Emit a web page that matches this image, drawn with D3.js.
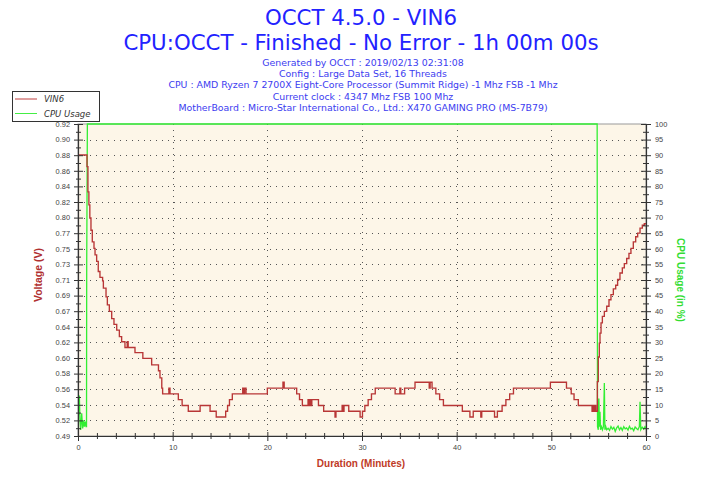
<!DOCTYPE html>
<html><head><meta charset="utf-8">
<script src="https://cdn.jsdelivr.net/npm/d3@7"></script>
<style>body{margin:0;background:#fff} svg{display:block}</style>
</head><body>
<svg id="c" width="720" height="480"></svg>
<script>
// ---------- data ----------
const titleLines = ["OCCT 4.5.0 - VIN6", "CPU:OCCT - Finished - No Error - 1h 00m 00s"];
const infoLines = [
  "Generated by OCCT : 2019/02/13 02:31:08",
  "Config : Large Data Set, 16 Threads",
  "CPU : AMD Ryzen 7 2700X Eight-Core Processor (Summit Ridge) -1 Mhz FSB -1 Mhz",
  "Current clock : 4347 Mhz FSB 100 Mhz",
  "MotherBoard : Micro-Star International Co., Ltd.: X470 GAMING PRO (MS-7B79)"
];
const legendLabels = ["VIN6", "CPU Usage"];
const voltTickLabels = ["0.49","0.52","0.54","0.56","0.58","0.60","0.62","0.64","0.67","0.69","0.71","0.73","0.75","0.77","0.80","0.82","0.84","0.86","0.88","0.90","0.92"];
const cpuTickLabels = [0,5,10,15,20,25,30,35,40,45,50,55,60,65,70,75,80,85,90,95,100];
const timeTickLabels = [0,10,20,30,40,50,60];
const voltDomain = [0.4938, 0.9248];

// VIN6 (minutes, volts) - step series
const vin6 = [
[0,0.882],[0.95,0.866],[1.05,0.831],[1.15,0.813],[1.25,0.795],[1.37,0.778],[1.51,0.762],[1.69,0.753],[1.8,0.744],[1.97,0.735],
[2.14,0.721],[2.32,0.713],[2.6,0.708],[2.68,0.698],[2.96,0.686],[3.1,0.675],[3.31,0.666],[3.56,0.656],[3.8,0.648],[4.09,0.64],
[4.37,0.631],[4.61,0.624],[4.96,0.616],[5.2,0.624],[5.3,0.616],[6.02,0.609],[6.85,0.601],[7.78,0.592],[8.5,0.584],[8.66,0.574],
[8.85,0.56],[8.94,0.552],[9.6,0.56],[9.72,0.552],[10.6,0.544],[11.0,0.536],[11.65,0.528],[12.9,0.536],[13.95,0.528],[14.6,0.52],
[15.6,0.528],[15.8,0.536],[16.0,0.544],[16.3,0.552],[17.4,0.56],[17.5,0.552],[17.6,0.56],[17.75,0.552],[20.0,0.56],[21.65,0.568],
[21.78,0.56],[23.1,0.552],[23.4,0.544],[23.7,0.536],[24.3,0.544],[24.4,0.536],[24.5,0.544],[24.6,0.536],[24.7,0.544],[25.4,0.536],
[25.95,0.528],[27.15,0.52],[27.25,0.528],[27.9,0.536],[28.0,0.528],[28.1,0.536],[28.6,0.528],[29.8,0.52],[30.05,0.528],[30.3,0.536],
[30.65,0.544],[31.0,0.552],[31.4,0.56],[33.5,0.552],[34.0,0.56],[34.1,0.552],[34.5,0.56],[35.6,0.568],[37.1,0.56],[37.2,0.568],
[37.4,0.56],[37.8,0.552],[38.2,0.544],[38.6,0.536],[40.6,0.528],[41.4,0.52],[41.75,0.528],[42.55,0.52],[42.65,0.528],[44.0,0.52],
[44.3,0.528],[44.8,0.536],[45.2,0.544],[45.6,0.552],[46.0,0.56],[49.9,0.568],[51.6,0.56],[52.1,0.552],[52.4,0.544],[52.85,0.536],
[54.3,0.528],[54.4,0.536],[54.5,0.528],[54.6,0.536],[54.7,0.528],[54.86,0.569],[54.96,0.603],[55.07,0.622],[55.14,0.636],[55.25,0.65],
[55.39,0.659],[55.6,0.666],[55.85,0.673],[56.09,0.682],[56.3,0.689],[56.55,0.697],[56.8,0.702],[57.0,0.71],[57.25,0.719],[57.5,0.726],
[57.71,0.732],[57.96,0.739],[58.2,0.746],[58.41,0.753],[58.66,0.762],[58.91,0.769],[59.12,0.774],[59.37,0.781],[59.61,0.785],[59.82,0.787],
[60,0.787]
];

// CPU usage (minutes, %)
const cpuUsage = [
[0,6],[0.07,7.3],[0.14,13],[0.21,5],[0.28,1.9],[0.39,7.3],[0.49,2.4],[0.6,5],[0.67,3],[0.77,4.6],[0.85,3],[0.9,3],
[0.92,55],[0.99,100],[54.84,100],[54.88,3],[54.96,2],[55.02,12],[55.08,3],[55.14,7.8],[55.2,2],[55.3,3],[55.4,2],[55.5,3],
[55.6,17],[55.66,2],[55.75,3],[55.85,2],[56.0,2.5],[56.15,1.8],[56.3,3],[56.45,2.2],[56.6,2.8],[56.75,1.5],[56.9,2.6],[57.05,3.2],
[57.2,2],[57.35,2.7],[57.5,1.8],[57.65,3],[57.8,2.3],[57.95,2.6],[58.1,1.9],[58.25,3.1],[58.4,2.2],[58.55,2.5],[58.7,1.7],[58.85,2.9],
[59.0,2.4],[59.15,2],[59.3,3],[59.37,11],[59.45,2],[59.6,2.8],[59.75,2.2],[59.9,3],[60,2.5]
];

// ---------- layout ----------
const svg = d3.select("#c");
const P = {l:78, r:646, t:124, b:436};
const x = d3.scaleLinear().domain([0,60]).range([P.l,P.r]);
const yV = d3.scaleLinear().domain(voltDomain).range([P.b,P.t]);
const yC = d3.scaleLinear().domain([0,100]).range([P.b,P.t]);
const voltTicks = voltTickLabels.map((d,i)=>voltDomain[0] + i*(voltDomain[1]-voltDomain[0])/20);
const voltMinor = voltTicks.slice(0,-1).map((d,i)=>(d+voltTicks[i+1])/2);
const cpuMinor = cpuTickLabels.slice(0,-1).map(d=>d+2.5);
const timeMinor = d3.range(0,61,2).filter(d=>d%10!==0);

// titles
svg.selectAll("text.title").data(titleLines).join("text")
  .attr("x",361).attr("y",(d,i)=>24.5+i*25).attr("text-anchor","middle")
  .attr("font-family","DejaVu Sans").attr("font-size",21.3).attr("fill","#2222ff").text(d=>d);
svg.selectAll("text.info").data(infoLines).join("text")
  .attr("x",363).attr("y",(d,i)=>65.5+i*11.4).attr("text-anchor","middle")
  .attr("font-family","DejaVu Sans").attr("font-size",9.4).attr("fill","#3c3cf0").text(d=>d);

// plot background
svg.append("rect").attr("x",P.l).attr("y",P.t).attr("width",P.r-P.l).attr("height",P.b-P.t)
  .attr("fill","#fdf6e8").attr("stroke","#999").attr("stroke-width",1);

// grid
const grid = svg.append("g").attr("stroke","#555").attr("stroke-width",1).attr("stroke-dasharray","1,5");
grid.selectAll("line.h").data(voltTicks.slice(1,-1)).join("line")
  .attr("x1",P.l+6).attr("x2",P.r).attr("y1",d=>Math.round(yV(d))+0.5).attr("y2",d=>Math.round(yV(d))+0.5);
grid.selectAll("line.v").data(timeTickLabels.slice(1,-1)).join("line")
  .attr("y1",P.t).attr("y2",P.b).attr("x1",d=>Math.round(x(d))+0.5).attr("x2",d=>Math.round(x(d))+0.5);

// clip
svg.append("clipPath").attr("id","clip").append("rect")
  .attr("x",P.l).attr("y",P.t-1).attr("width",P.r-P.l).attr("height",P.b-P.t+1);

// series
svg.append("path").datum(cpuUsage).attr("clip-path","url(#clip)")
  .attr("fill","none").attr("stroke","#33ee33").attr("stroke-width",1.3)
  .attr("d", d3.line().x(d=>x(d[0])).y(d=>yC(d[1])));
svg.append("path").datum(vin6).attr("clip-path","url(#clip)")
  .attr("fill","none").attr("stroke","#b83636").attr("stroke-width",1.35)
  .attr("d", d3.line().curve(d3.curveStepAfter).x(d=>x(d[0])).y(d=>yV(d[1])));

// axes
const axisColor = "#333";
function styleAxis(g){
  g.select(".domain").attr("stroke",axisColor).attr("stroke-width",1.2);
  g.selectAll(".tick line").attr("stroke",axisColor);
  g.selectAll(".tick text").attr("fill","#444").attr("font-family","Liberation Sans").attr("font-size",7.4);
}
const gL = svg.append("g").attr("transform",`translate(${P.l},0)`)
  .call(d3.axisLeft(yV).tickValues(voltTicks).tickFormat((d,i)=>voltTickLabels[i]).tickSize(4).tickPadding(4).tickSizeOuter(0));
styleAxis(gL); gL.selectAll(".tick line").attr("x1",5);
const gLm = svg.append("g").attr("transform",`translate(${P.l},0)`)
  .call(d3.axisLeft(yV).tickValues(voltMinor).tickFormat("").tickSize(2).tickSizeOuter(0));
styleAxis(gLm); gLm.select(".domain").remove(); gLm.selectAll(".tick line").attr("x1",3);

const gR = svg.append("g").attr("transform",`translate(${P.r},0)`)
  .call(d3.axisRight(yC).tickValues(cpuTickLabels).tickFormat(d=>d).tickSize(5).tickPadding(4).tickSizeOuter(0));
styleAxis(gR); gR.selectAll(".tick line").attr("x1",-5); gR.selectAll(".tick text").attr("text-anchor","start");
const gRm = svg.append("g").attr("transform",`translate(${P.r},0)`)
  .call(d3.axisRight(yC).tickValues(cpuMinor).tickFormat("").tickSize(3).tickSizeOuter(0));
styleAxis(gRm); gRm.select(".domain").remove(); gRm.selectAll(".tick line").attr("x1",-3);

const gB = svg.append("g").attr("transform",`translate(0,${P.b})`)
  .call(d3.axisBottom(x).tickValues(timeTickLabels).tickFormat(d=>d).tickSize(5).tickPadding(4).tickSizeOuter(0));
styleAxis(gB); gB.selectAll(".tick line").attr("y1",-4);
const gBm = svg.append("g").attr("transform",`translate(0,${P.b})`)
  .call(d3.axisBottom(x).tickValues(timeMinor).tickFormat("").tickSize(3).tickSizeOuter(0));
styleAxis(gBm); gBm.select(".domain").remove(); gBm.selectAll(".tick line").attr("y1",-3);

// axis titles
svg.append("text").attr("transform","translate(42,275) rotate(-90)").attr("text-anchor","middle")
  .attr("font-family","Liberation Sans").attr("font-weight","bold").attr("font-size",10.5)
  .attr("fill","#b03030").text("Voltage (V)");
svg.append("text").attr("transform","translate(677,280) rotate(90)").attr("text-anchor","middle")
  .attr("font-family","Liberation Sans").attr("font-weight","bold").attr("font-size",10)
  .attr("fill","#33dd33").text("CPU Usage (in %)");
svg.append("text").attr("x",361).attr("y",467).attr("text-anchor","middle")
  .attr("font-family","Liberation Sans").attr("font-weight","bold").attr("font-size",10)
  .attr("fill","#c03a26").text("Duration (Minutes)");

// legend
const lg = svg.append("g");
lg.append("rect").attr("x",12.5).attr("y",91.5).attr("width",87).attr("height",30)
  .attr("fill","#fff").attr("stroke","#333").attr("stroke-width",1);
const legColors = ["#c04040","#44ee44"];
legendLabels.forEach((t,i)=>{
  const yy = 99 + i*14.5;
  lg.append("line").attr("x1",15).attr("x2",37).attr("y1",yy).attr("y2",yy).attr("stroke",legColors[i]).attr("stroke-width",1);
  lg.append("text").attr("x",44).attr("y",yy+3).attr("font-family","DejaVu Sans").attr("font-style","italic")
    .attr("font-size",8.5).attr("fill","#333").text(t);
});
</script>
</body></html>
